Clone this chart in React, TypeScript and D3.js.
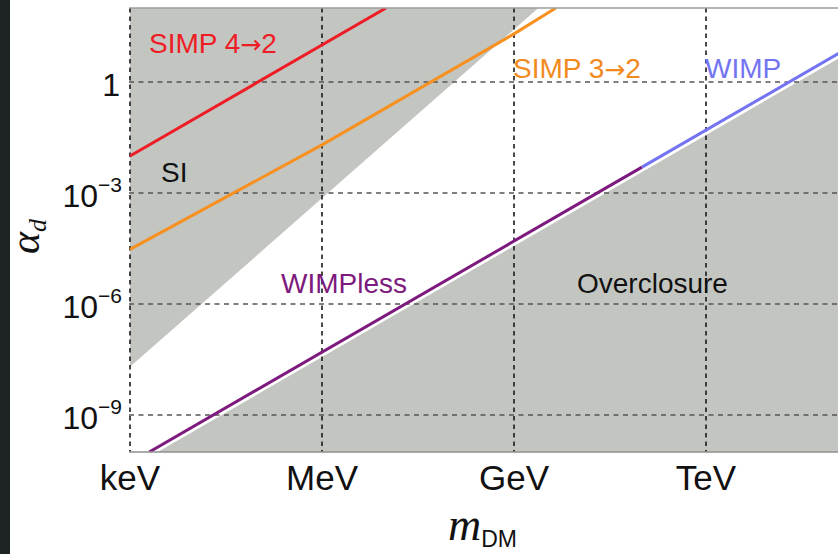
import React from "react";
import * as d3 from "d3";

// Axis ticks (mass in GeV, coupling alpha_d)
const xTickValues = [1e-6, 1e-3, 1, 1e3];
const xTickLabels = ["keV", "MeV", "GeV", "TeV"];
const yTickValues = [1, 1e-3, 1e-6, 1e-9];
const yTickExponents = ["", "−3", "−6", "−9"];

// Curves: dark-matter mass (GeV) vs alpha_d
const simp42Mass = [1e-6, 1e-2];
const simp42Alpha = [1e-2, 1e2];

const simp32Mass = [1e-6, 1e-3, 1, 4.5];
const simp32Alpha = [3e-5, 0.02, 20, 100];

const wimplessMass = [2e-6, 100];
const wimplessAlpha = [1e-10, 5e-3];

const wimpMass = [100, 1e6];
const wimpAlpha = [5e-3, 50];

// Excluded regions
const siMass = [1e-6, 2.4];
const siAlpha = [2e-8, 100];

const overclosureMass = [1e-6, 1e6];
const overclosureAlpha = [3.7e-11, 37];

const W = 838;
const H = 554;
const left = 129;
const top = 8;
const bottom = 452;
const decadePx = 64;

const zip = (a: number[], b: number[]) => a.map((v, i) => [v, b[i]] as [number, number]);

function Arrowed({ before, after }: { before: string; after: string }) {
  return (
    <>
      {before}
      <tspan fontFamily="'DejaVu Sans', sans-serif" fontSize={25}>→</tspan>
      {after}
    </>
  );
}

export default function App() {
  const x = d3.scaleLog().domain([1e-6, 1e6]).range([left + 1, left + 1 + 12 * decadePx]);
  const y = d3.scaleLog().domain([1e-10, 1e2]).range([bottom, top]);

  const line = d3
    .line<[number, number]>()
    .x((d) => x(d[0]))
    .y((d) => y(d[1]));

  const siArea = d3
    .area<[number, number]>()
    .x((d) => x(d[0]))
    .y0(top)
    .y1((d) => y(d[1]));

  const ocArea = d3
    .area<[number, number]>()
    .x((d) => x(d[0]))
    .y0(bottom)
    .y1((d) => y(d[1]));

  const gray = "#c3c5c1";
  const sans = "'Liberation Sans', Arial, Helvetica, sans-serif";
  const serif = "'Liberation Serif', 'Times New Roman', serif";

  return (
    <svg
      width={W}
      height={H}
      style={{ position: "absolute", left: 0, top: 0, background: "#fff" }}
    >
      <defs>
        <clipPath id="plotClip">
          <rect x={left} y={top} width={W - left} height={bottom - top} />
        </clipPath>
      </defs>

      <rect x={0} y={0} width={W} height={H} fill="#fff" />
      <rect x={0} y={0} width={10} height={H} fill="#1e2326" />

      <g clipPath="url(#plotClip)">
        <path d={siArea(zip(siMass, siAlpha)) || ""} fill={gray} />
        <path d={ocArea(zip(overclosureMass, overclosureAlpha)) || ""} fill={gray} />

        {yTickValues.map((v) => (
          <line
            key={"gy" + v}
            x1={left}
            x2={W}
            y1={y(v)}
            y2={y(v)}
            stroke="#555"
            strokeWidth={1.6}
            strokeDasharray="5,4.5"
          />
        ))}
        {xTickValues.map((v) => (
          <line
            key={"gx" + v}
            x1={x(v)}
            x2={x(v)}
            y1={top}
            y2={bottom}
            stroke="#1a1a1a"
            strokeWidth={1.6}
            strokeDasharray="4.5,4"
          />
        ))}

        <path d={line(zip(simp42Mass, simp42Alpha)) || ""} fill="none" stroke="#ee1c25" strokeWidth={3} />
        <path d={line(zip(simp32Mass, simp32Alpha)) || ""} fill="none" stroke="#f7901e" strokeWidth={3} />
        <path d={line(zip(wimplessMass, wimplessAlpha)) || ""} fill="none" stroke="#7d1a7d" strokeWidth={3} />
        <path d={line(zip(wimpMass, wimpAlpha)) || ""} fill="none" stroke="#7474f2" strokeWidth={3} />
      </g>

      {/* frame */}
      <line x1={left} x2={W} y1={top} y2={top} stroke="#9c9c9c" strokeWidth={1.5} />
      <line x1={left} x2={W} y1={bottom} y2={bottom} stroke="#8f8f8f" strokeWidth={1.5} />

      {/* region and curve labels */}
      <g fontFamily={sans} fontSize={28}>
        <text x={149} y={53} fill="#ee1c25">
          <Arrowed before="SIMP 4" after="2" />
        </text>
        <text x={513} y={78} fill="#f28a1e">
          <Arrowed before="SIMP 3" after="2" />
        </text>
        <text x={705} y={78} fill="#7474f2">WIMP</text>
        <text x={281} y={293} fill="#7d1a7d">WIMPless</text>
        <text x={577} y={293} fill="#111">Overclosure</text>
        <text x={161} y={182} fill="#111">SI</text>
      </g>

      {/* x tick labels */}
      <g fontFamily={sans} fontSize={35} fill="#111" textAnchor="middle">
        {xTickValues.map((v, i) => (
          <text key={"xl" + v} x={x(v)} y={490}>
            {xTickLabels[i]}
          </text>
        ))}
      </g>

      {/* y tick labels */}
      <g fontFamily={sans} fill="#111" textAnchor="end">
        {yTickValues.map((v, i) =>
          yTickExponents[i] === "" ? (
            <text key={"yl" + v} x={120} y={y(v) + 14} fontSize={32}>
              1
            </text>
          ) : (
            <text key={"yl" + v} x={122} y={y(v) + 14} fontSize={32}>
              10
              <tspan dy={-15} fontSize={21}>
                {yTickExponents[i]}
              </tspan>
            </text>
          )
        )}
      </g>

      {/* axis titles */}
      <text x={448} y={540} fontFamily={serif} fontStyle="italic" fontSize={46} fill="#111">
        m
        <tspan fontFamily={sans} fontStyle="normal" fontSize={23} dy={7}>
          DM
        </tspan>
      </text>
      <text
        transform="translate(39,254) rotate(-90)"
        fontFamily={serif}
        fontStyle="italic"
        fontSize={42}
        fill="#111"
      >
        α
        <tspan fontSize={26} dy={7}>
          d
        </tspan>
      </text>
    </svg>
  );
}
